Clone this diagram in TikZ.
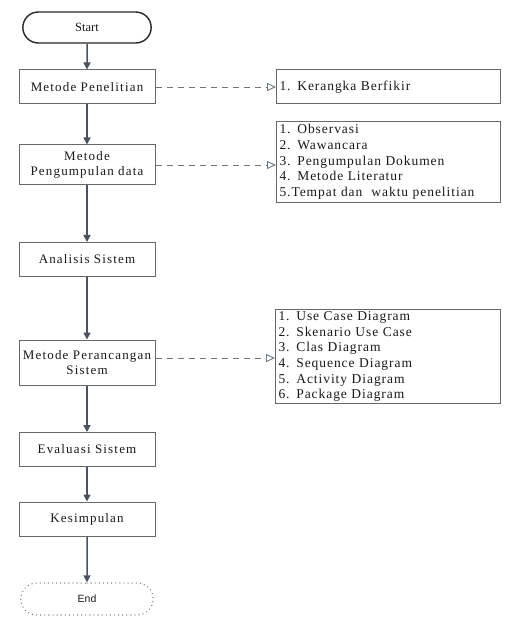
\documentclass[tikz,border=0pt]{standalone}
\usepackage{fontspec}
\setmainfont{Liberation Serif}
\newfontfamily\serfnt[LetterSpace=9]{Liberation Serif}
\newfontfamily\serlst[LetterSpace=7]{Liberation Serif}
\newfontfamily\sansfnt{Liberation Sans}
\usetikzlibrary{arrows.meta,shapes.misc}
\definecolor{lnc}{RGB}{72,82,98}
\definecolor{bdc}{RGB}{105,105,105}
\definecolor{txc}{RGB}{25,25,25}
\tikzset{
  procbox/.style={draw=bdc, line width=1pt, minimum width=136pt, minimum height=34pt,
    align=center, text=txc, inner sep=2pt,
    font=\serfnt\fontsize{13}{14.5}\selectfont},
  listbox/.style={draw=bdc, line width=1pt, anchor=north west, align=left, text=txc,
    inner xsep=3pt, inner ysep=2pt,
    font=\serlst\fontsize{13.5}{15.7}\selectfont},
  flow/.style={draw=lnc, line width=1.5pt, -{Triangle[length=7pt,width=7pt]}},
  dashflow/.style={draw=lnc!80, line width=0.9pt, dash pattern=on 6pt off 5pt,
    -{Triangle[open,length=9pt,width=8pt]}}
}
\begin{document}
\begin{tikzpicture}[x=1pt,y=-1pt]
\useasboundingbox[fill=white] (0,0) rectangle (504,617);
% left column
\node[rounded rectangle, draw=black!85, line width=1.4pt, minimum width=135pt, minimum height=31pt,
  text=txc, font=\fontsize{12.5}{13}\selectfont] (start) at (87,27.5) {Start};
\node[procbox] (mp) at (87,87) {Metode Penelitian};
\node[procbox, minimum height=40pt] (mpd) at (87,165) {Metode\\Pengumpulan data};
\node[procbox] (as) at (87,259.5) {Analisis Sistem};
\node[procbox, minimum height=45pt] (mps) at (87,362.5) {Metode Perancangan\\Sistem};
\node[procbox] (es) at (87,449.5) {Evaluasi Sistem};
\node[procbox] (ks) at (87,519) {Kesimpulan};
\node[rounded rectangle, draw=black!55, line width=1.3pt, dash pattern=on 0.1pt off 4pt, line cap=round,
  minimum width=139pt, minimum height=32pt, text=txc, font=\sansfnt\fontsize{10.5}{12}\selectfont]
  (end) at (87,599) {End};
% right column
\node[listbox, text width=218pt, minimum height=34pt, anchor=west] (kb) at (276,87)
  {1. Kerangka Berfikir};
\node[listbox, text width=218pt, minimum height=81pt] (pd) at (276,121)
  {1. Observasi\\2. Wawancara\\3. Pengumpulan Dokumen\\4. Metode Literatur\\5.Tempat dan\ \ waktu penelitian};
\node[listbox, text width=219pt, minimum height=73pt] (pr) at (275,309)
  {1. Use Case Diagram\\2. Skenario Use Case\\3. Clas Diagram\\4. Sequence Diagram\\5. Activity Diagram\\6. Package Diagram};
% flow
\draw[flow] (start) -- (mp);
\draw[flow] (mp) -- (mpd);
\draw[flow] (mpd) -- (as);
\draw[flow] (as) -- (mps);
\draw[flow] (mps) -- (es);
\draw[flow] (es) -- (ks);
\draw[flow] (ks) -- (end);
% dashed
\draw[dashflow] (mp.east) -- (kb.west);
\draw[dashflow] (mpd.east) -- (mpd.east -| pd.west);
\draw[dashflow] (mps.east |- 0,358) -- (pr.west |- 0,358);
\end{tikzpicture}
\end{document}
